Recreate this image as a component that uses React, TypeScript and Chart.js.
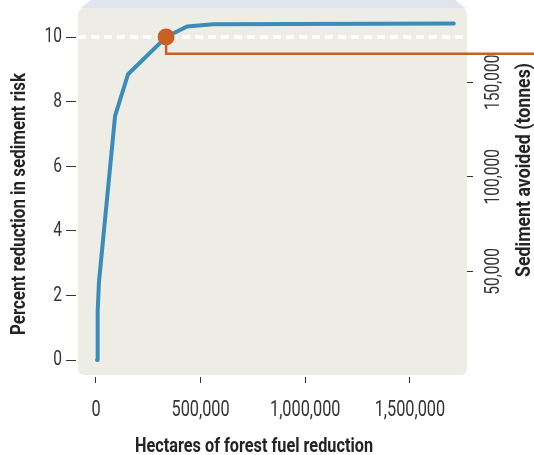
import { useEffect, useRef } from 'react';
import { Chart, registerables } from 'chart.js';

Chart.register(...registerables);

// ---- Data ----
const HECTARES = [5000, 8000, 14000, 91000, 153000, 335000, 435000, 560000, 1710000];
const PCT_REDUCTION = [0, 1.5, 2.4, 7.55, 8.85, 10, 10.33, 10.4, 10.42];

const X_TICKS = [0, 500000, 1000000, 1500000];
const Y_TICKS = [0, 2, 4, 6, 8, 10];
const Y2_TICKS = [50000, 100000, 150000];

const TARGET_PCT = 10;
const MARK_HA = 335000;
const MARK_PCT = 10;
const MARK_TONNES = 165000;

const X_TITLE = 'Hectares of forest fuel reduction';
const Y_TITLE = 'Percent reduction in sediment risk';
const Y2_TITLE = 'Sediment avoided (tonnes)';

// ---- Axis ranges ----
const X_MIN = -86000;
const X_MAX = 1773000;
const Y_MIN = -0.463;
const Y_MAX = 10.885;
const Y2_MIN = -4737;
const Y2_MAX = 188950;

// ---- Styles ----
const FONT = "Roboto, 'Noto Sans', sans-serif";
const CONDENSE = 0.74;
const BLUE = '#3b8cbb';
const ORANGE = '#c95f24';
const PLOT_BG = '#edede5';
const BAND = '#dfe5ed';
const TEXT = '#333333';
const TITLE = '#242424';

const fmt = (v: number) => v.toLocaleString('en-US');

const backgroundPlugin = {
  id: 'bgPanel',
  beforeDraw(chart: any) {
    const { ctx, chartArea } = chart;
    const { left, right, top, bottom } = chartArea;
    ctx.save();
    ctx.fillStyle = BAND;
    ctx.beginPath();
    ctx.moveTo(left + 2, top);
    ctx.lineTo(left + 13, 0);
    ctx.lineTo(right - 12, 0);
    ctx.lineTo(right - 1, top);
    ctx.closePath();
    ctx.fill();
    ctx.fillStyle = PLOT_BG;
    ctx.beginPath();
    (ctx as any).roundRect(left, top, right - left, bottom - top, 6);
    ctx.fill();
    ctx.restore();
  },
};

// narrow the tick labels drawn by the scales (condensed typeface look)
const condensePlugin = {
  id: 'condense',
  beforeDraw(chart: any) {
    const { ctx } = chart;
    ['x', 'y', 'y2'].forEach((id) => {
      const s = chart.scales[id];
      if (!s) return;
      const items = s.getLabelItems(chart.chartArea);
      items.forEach((it: any) => {
        ctx.save();
        ctx.font = it.font.string;
        const w = ctx.measureText(String(it.label)).width;
        ctx.restore();
        it.options.maxWidth = w * CONDENSE;
      });
    });
  },
};

const connectorPlugin = {
  id: 'connector',
  beforeDatasetsDraw(chart: any) {
    const { ctx } = chart;
    const xs = chart.scales.x;
    const ys = chart.scales.y;
    const y2 = chart.scales.y2;
    const px = xs.getPixelForValue(MARK_HA);
    const py = ys.getPixelForValue(MARK_PCT);
    const py2 = y2.getPixelForValue(MARK_TONNES);
    ctx.save();
    ctx.strokeStyle = ORANGE;
    ctx.lineWidth = 2.5;
    ctx.beginPath();
    ctx.moveTo(px, py);
    ctx.lineTo(px, py2);
    ctx.lineTo(chart.width, py2);
    ctx.stroke();
    ctx.restore();
  },
};

const titlesPlugin = {
  id: 'axisTitles',
  afterDraw(chart: any) {
    const { ctx } = chart;
    ctx.save();
    ctx.fillStyle = TITLE;
    ctx.font = `bold 21px ${FONT}`;
    ctx.textAlign = 'center';
    ctx.textBaseline = 'alphabetic';
    ctx.fillText(X_TITLE, 254, 452, 238);

    ctx.save();
    ctx.translate(25, 204);
    ctx.rotate(-Math.PI / 2);
    ctx.fillText(Y_TITLE, 0, 0, 262);
    ctx.restore();

    ctx.save();
    ctx.translate(530, 170);
    ctx.rotate(-Math.PI / 2);
    ctx.fillText(Y2_TITLE, 0, 0, 214);
    ctx.restore();
    ctx.restore();
  },
};

const noPad = (s: any) => {
  s.paddingTop = 0;
  s.paddingBottom = 0;
  s.paddingLeft = 0;
  s.paddingRight = 0;
};

export default function App() {
  const canvasRef = useRef<HTMLCanvasElement | null>(null);

  useEffect(() => {
    const canvas = canvasRef.current;
    if (!canvas) return;
    const chart = new Chart(canvas, {
      type: 'line',
      data: {
        datasets: [
          {
            label: 'target',
            order: 3,
            data: [
              { x: X_MIN, y: TARGET_PCT },
              { x: X_MAX, y: TARGET_PCT },
            ],
            borderColor: '#ffffff',
            borderWidth: 3.5,
            borderDash: [8, 5],
            pointRadius: 0,
            xAxisID: 'x',
            yAxisID: 'y',
          },
          {
            label: 'Percent reduction',
            order: 2,
            data: HECTARES.map((h, i) => ({ x: h, y: PCT_REDUCTION[i] })),
            borderColor: BLUE,
            borderWidth: 4,
            borderCapStyle: 'round',
            borderJoinStyle: 'round',
            tension: 0,
            pointRadius: 0,
            xAxisID: 'x',
            yAxisID: 'y',
          },
          {
            label: 'mark',
            order: 1,
            data: [{ x: MARK_HA, y: MARK_PCT }],
            showLine: false,
            pointRadius: 8.5,
            pointBackgroundColor: ORANGE,
            pointBorderWidth: 0,
            borderColor: ORANGE,
            xAxisID: 'x',
            yAxisID: 'y',
          },
        ] as any,
      },
      options: {
        animation: false,
        responsive: false,
        events: [],
        layout: { padding: { top: 7, left: 0, right: 0, bottom: 0 } },
        plugins: { legend: { display: false }, tooltip: { enabled: false } },
        scales: {
          x: {
            type: 'linear',
            position: 'bottom',
            min: X_MIN,
            max: X_MAX,
            afterBuildTicks: (s: any) => {
              s.ticks = X_TICKS.map((v) => ({ value: v }));
            },
            afterFit: (s: any) => {
              s.height = 80;
              noPad(s);
            },
            border: { display: false },
            grid: {
              drawOnChartArea: false,
              drawTicks: true,
              tickLength: 8,
              tickBorderDash: [6, 2],
              tickBorderDashOffset: 6,
              tickColor: TEXT,
              tickWidth: 1,
            },
            ticks: {
              font: { family: FONT, size: 22 },
              color: TEXT,
              padding: 14,
              maxRotation: 0,
              minRotation: 0,
              callback: (v: any) => fmt(Number(v)),
            },
          },
          y: {
            type: 'linear',
            position: 'left',
            min: Y_MIN,
            max: Y_MAX,
            afterBuildTicks: (s: any) => {
              s.ticks = Y_TICKS.map((v) => ({ value: v }));
            },
            afterFit: (s: any) => {
              s.width = 78;
              noPad(s);
            },
            border: { display: false },
            grid: {
              drawOnChartArea: false,
              drawTicks: true,
              tickLength: 12,
              tickBorderDash: [10, 2],
              tickColor: TEXT,
              tickWidth: 1,
            },
            ticks: {
              font: { family: FONT, size: 21 },
              color: TEXT,
              padding: 4,
              callback: (v: any) => String(v),
            },
          },
          y2: {
            type: 'linear',
            position: 'right',
            min: Y2_MIN,
            max: Y2_MAX,
            afterBuildTicks: (s: any) => {
              s.ticks = Y2_TICKS.map((v) => ({ value: v }));
            },
            afterFit: (s: any) => {
              s.width = 67;
              noPad(s);
            },
            border: { display: false },
            grid: {
              drawOnChartArea: false,
              drawTicks: true,
              tickLength: 6,
              tickColor: TEXT,
              tickWidth: 1,
            },
            ticks: {
              font: { family: FONT, size: 21 },
              color: TEXT,
              padding: -16.5,
              minRotation: 90,
              maxRotation: 90,
              crossAlign: 'center',
              callback: (v: any) => fmt(Number(v)),
            },
          },
        },
      } as any,
      plugins: [backgroundPlugin, condensePlugin, connectorPlugin, titlesPlugin],
    });
    return () => chart.destroy();
  }, []);

  return (
    <div style={{ position: 'absolute', left: 0, top: 0, width: 534, height: 455 }}>
      <canvas ref={canvasRef} width={534} height={455} style={{ display: 'block', width: 534, height: 455 }} />
    </div>
  );
}
